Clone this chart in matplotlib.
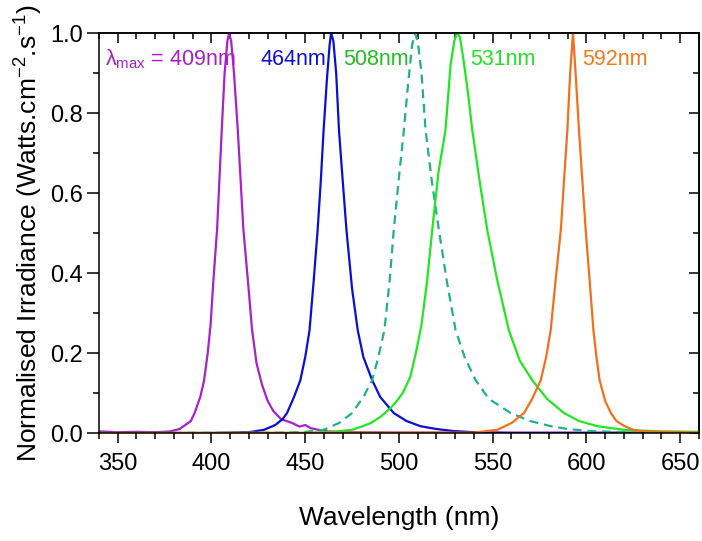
import matplotlib
matplotlib.use('Agg')
import matplotlib.pyplot as plt
from matplotlib.ticker import MultipleLocator

plt.rcParams['font.family'] = ['Liberation Sans', 'DejaVu Sans']
plt.rcParams['mathtext.fontset'] = 'custom'
plt.rcParams['mathtext.rm'] = 'Liberation Sans'
plt.rcParams['mathtext.it'] = 'Liberation Sans'
plt.rcParams['mathtext.bf'] = 'Liberation Sans:bold'

# LED spectra (wavelength nm, normalised irradiance)
violet_wl = [340, 350, 360, 370, 378, 383, 386, 389, 391, 394, 396, 398, 399.5, 401, 403,
             405.5, 407, 408.5, 409.4, 410.5, 412, 414, 417, 420, 421.6, 424, 427, 430, 433,
             437, 440, 443, 447, 450, 453, 457, 462, 470, 500, 550, 600, 660]
violet = [0.004, 0.002, 0.003, 0.002, 0.004, 0.01, 0.02, 0.03, 0.05, 0.09, 0.13, 0.2, 0.27,
          0.38, 0.51, 0.76, 0.9, 0.98, 1.0, 0.98, 0.9, 0.76, 0.51, 0.35, 0.26, 0.175, 0.12,
          0.08, 0.055, 0.035, 0.03, 0.025, 0.016, 0.02, 0.012, 0.008, 0.004, 0.002, 0.001,
          0.001, 0.001, 0.001]

blue_wl = [340, 400, 420, 428, 434, 438, 440.3, 444, 447.4, 450, 452.3, 454.5, 456.6, 458.3,
           459.8, 461.5, 463, 463.8, 465, 466.5, 468, 470, 472, 475, 478, 481, 485.7, 490,
           497.2, 504, 511.5, 520, 529, 540, 560, 660]
blue = [0.0, 0.0, 0.002, 0.008, 0.02, 0.035, 0.05, 0.09, 0.132, 0.19, 0.257, 0.38, 0.507,
        0.63, 0.757, 0.88, 0.97, 1.0, 0.98, 0.9, 0.757, 0.63, 0.507, 0.36, 0.257, 0.19,
        0.132, 0.09, 0.05, 0.03, 0.017, 0.01, 0.005, 0.002, 0.0, 0.0]

cyan_wl = [340, 440, 450, 459.8, 468, 475, 481, 485.7, 489, 492.2, 495, 497.2, 500, 502.6,
           505, 507, 508.5, 510, 512, 514.2, 517.5, 521.3, 525.5, 530.2, 535, 540.9, 548,
           559.6, 570, 581, 590, 602, 620, 660]
cyan = [0.0, 0.001, 0.003, 0.008, 0.025, 0.05, 0.09, 0.132, 0.19, 0.257, 0.38, 0.507, 0.64,
        0.757, 0.88, 0.97, 1.0, 0.98, 0.9, 0.757, 0.63, 0.507, 0.38, 0.257, 0.19, 0.132,
        0.085, 0.05, 0.03, 0.017, 0.01, 0.005, 0.002, 0.0]

green_wl = [340, 450, 465, 475, 480, 485, 490, 495, 498, 502, 506, 509, 512, 515, 518, 521,
            524.8, 527.5, 529.5, 531, 532.5, 534.5, 536.8, 539.1, 543, 547.1, 552.5, 558.6,
            564.5, 571.1, 579, 588, 596, 605.9, 620, 640, 660]
green = [0.0, 0.0, 0.003, 0.008, 0.016, 0.025, 0.04, 0.06, 0.075, 0.1, 0.14, 0.2, 0.27, 0.38,
         0.52, 0.65, 0.757, 0.92, 0.98, 1.0, 0.99, 0.93, 0.85, 0.757, 0.63, 0.507, 0.38,
         0.257, 0.18, 0.132, 0.085, 0.05, 0.03, 0.017, 0.008, 0.004, 0.003]

orange_wl = [340, 540, 552.4, 560, 566.7, 571, 575.6, 578.5, 580.9, 583.5, 586.3, 588, 589.8,
             591.3, 592.8, 594.2, 596, 597.8, 599.6, 601.7, 603.7, 605.3, 607, 610, 613, 616,
             620, 625, 630, 660]
orange = [0.0, 0.001, 0.008, 0.025, 0.05, 0.085, 0.132, 0.19, 0.257, 0.38, 0.507, 0.63,
          0.757, 0.9, 1.0, 0.9, 0.757, 0.63, 0.507, 0.38, 0.257, 0.19, 0.132, 0.08, 0.05,
          0.03, 0.018, 0.008, 0.004, 0.001]

peak_labels = [r'$\lambda_{max}$ = 409nm', '464nm', '508nm', '531nm', '592nm']
label_x = [343.2, 426, 470.3, 538.2, 597.5]
label_colors = ['#A81FC8', '#1010D0', '#25BB25', '#25E025', '#F07A1E']

fig = plt.figure(figsize=(7.02, 5.41), dpi=100)
ax = fig.add_axes([0.141, 0.1996, 0.8547, 0.7394])

lw = 1.6
ax.plot(violet_wl, violet, color='#A722C9', lw=lw)
ax.plot(blue_wl, blue, color='#0A10D0', lw=lw)
ax.plot(cyan_wl, cyan, color='#22B08A', lw=lw, dashes=(4, 2.6))
ax.plot(green_wl, green, color='#22E622', lw=lw)
ax.plot(orange_wl, orange, color='#F26F1C', lw=lw)

for txt, x, c in zip(peak_labels, label_x, label_colors):
    ax.text(x, 0.935, txt, color=c, fontsize=15.5, ha='left', va='center')

ax.set_xlim(340, 660)
ax.set_ylim(0, 1.0)
ax.xaxis.set_major_locator(MultipleLocator(50))
ax.xaxis.set_minor_locator(MultipleLocator(10))
ax.yaxis.set_major_locator(MultipleLocator(0.2))
ax.yaxis.set_minor_locator(MultipleLocator(0.1))
ax.yaxis.set_major_formatter(plt.FuncFormatter(lambda v, p: f'{v:.1f}'))

ax.tick_params(which='both', direction='out', width=1.1, labelsize=17)
ax.tick_params(axis='x', which='major', length=7.5, pad=7)
ax.tick_params(axis='x', which='minor', length=4)
ax.tick_params(axis='y', which='major', length=8.5, pad=3)
ax.tick_params(axis='y', which='minor', length=4.5)
for s in ax.spines.values():
    s.set_linewidth(1.1)

# mirrored inward ticks on top and right
top = ax.secondary_xaxis('top')
top.xaxis.set_major_locator(MultipleLocator(50))
top.xaxis.set_minor_locator(MultipleLocator(10))
top.tick_params(which='both', direction='in', width=1.1, labeltop=False)
top.tick_params(which='major', length=7.5)
top.tick_params(which='minor', length=4.5)
top.spines['top'].set_linewidth(1.1)
right = ax.secondary_yaxis('right')
right.yaxis.set_major_locator(MultipleLocator(0.2))
right.yaxis.set_minor_locator(MultipleLocator(0.1))
right.tick_params(which='both', direction='in', width=1.1, labelright=False)
right.tick_params(which='major', length=7.5)
right.tick_params(which='minor', length=4.5)
right.spines['right'].set_linewidth(1.1)

ax.set_xlabel('Wavelength (nm)', fontsize=19, labelpad=22)
ax.set_ylabel(r'Normalised Irradiance (Watts.cm$^{-2}$.s$^{-1}$)', fontsize=19, labelpad=4)

fig.savefig('out.png', dpi=100)
